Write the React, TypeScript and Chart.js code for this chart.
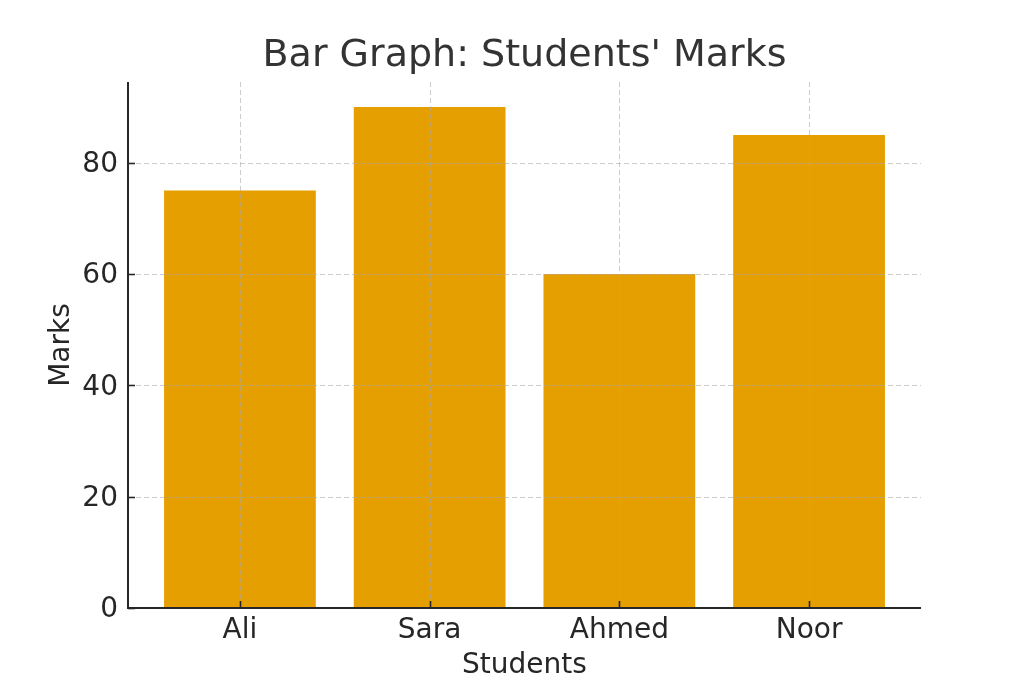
import React, { useEffect, useRef } from "react";
import { Chart, registerables } from "chart.js";

Chart.register(...registerables);

const students = ["Ali", "Sara", "Ahmed", "Noor"];
const marks = [75, 90, 60, 85];
const yTicks = [0, 20, 40, 60, 80];

const FONT = "'DejaVu Sans', 'Liberation Sans', sans-serif";
const TEXT = "#262626";

const overlayPlugin = {
  id: "mplOverlay",
  afterDatasetsDraw(chart: any) {
    const { ctx, chartArea } = chart;
    const xs = chart.scales.x;
    const ys = chart.scales.y;
    ctx.save();
    // grid
    ctx.strokeStyle = "rgba(170,170,170,0.6)";
    ctx.lineWidth = 1;
    ctx.setLineDash([5, 3]);
    students.forEach((_, i) => {
      const px = Math.round(xs.getPixelForValue(i)) + 0.5;
      ctx.beginPath();
      ctx.moveTo(px, chartArea.top);
      ctx.lineTo(px, chartArea.bottom);
      ctx.stroke();
    });
    yTicks.forEach((v) => {
      const py = Math.round(ys.getPixelForValue(v)) + 0.5;
      ctx.beginPath();
      ctx.moveTo(chartArea.left, py);
      ctx.lineTo(chartArea.right, py);
      ctx.stroke();
    });
    ctx.setLineDash([]);
    // inward ticks
    ctx.strokeStyle = TEXT;
    ctx.lineWidth = 1.6;
    students.forEach((_, i) => {
      const px = Math.round(xs.getPixelForValue(i)) + 0.5;
      ctx.beginPath();
      ctx.moveTo(px, chartArea.bottom);
      ctx.lineTo(px, chartArea.bottom - 7);
      ctx.stroke();
    });
    yTicks.forEach((v) => {
      const py = Math.round(ys.getPixelForValue(v)) + 0.5;
      ctx.beginPath();
      ctx.moveTo(chartArea.left, py);
      ctx.lineTo(chartArea.left + 7, py);
      ctx.stroke();
    });
    // spines
    ctx.lineWidth = 2;
    ctx.beginPath();
    ctx.moveTo(chartArea.left, chartArea.top);
    ctx.lineTo(chartArea.left, chartArea.bottom);
    ctx.lineTo(chartArea.right, chartArea.bottom);
    ctx.stroke();
    ctx.restore();
  },
};

export default function App() {
  const ref = useRef<HTMLCanvasElement | null>(null);
  useEffect(() => {
    if (!ref.current) return;
    const chart = new Chart(ref.current, {
      type: "bar",
      data: {
        datasets: [
          {
            label: "Marks",
            data: students.map((_, i) => ({ x: i, y: marks[i] })),
            backgroundColor: "#E69F00",
            borderWidth: 0,
            barPercentage: 0.8,
            categoryPercentage: 1,
          },
        ],
      },
      options: {
        animation: false,
        responsive: false,
        devicePixelRatio: 1,
        layout: { padding: { left: 0, right: 103, top: 0, bottom: 0 } },
        plugins: {
          legend: { display: false },
          tooltip: { enabled: false },
          title: {
            display: true,
            fullSize: false,
            text: "Bar Graph: Students' Marks",
            color: "#333333",
            font: { family: FONT, size: 38, weight: "normal" },
            padding: { top: 33, bottom: 3.4 },
          },
        },
        scales: {
          x: {
            type: "linear",
            offset: false,
            min: -0.59,
            max: 3.59,
            grid: { display: false, drawTicks: false, offset: false },
            border: { display: false },
            afterFit: (s: any) => {
              s.height = 75;
            },
            ticks: {
              stepSize: 1,
              includeBounds: false,
              autoSkip: false,
              maxRotation: 0,
              padding: 6,
              color: TEXT,
              font: { family: FONT, size: 28 },
              callback: (v: any) => students[v] ?? "",
            },
            title: {
              display: true,
              text: "Students",
              color: TEXT,
              font: { family: FONT, size: 28 },
              padding: { top: 0, bottom: 0 },
            },
          },
          y: {
            type: "linear",
            min: 0,
            max: 94.5,
            grid: { display: false, drawTicks: false },
            border: { display: false },
            afterFit: (s: any) => {
              s.width = 128;
            },
            ticks: {
              stepSize: 20,
              includeBounds: false,
              padding: 10,
              labelOffset: 2,
              color: TEXT,
              font: { family: FONT, size: 28 },
            },
            title: {
              display: true,
              text: "Marks",
              color: TEXT,
              font: { family: FONT, size: 28 },
              padding: { top: 45, bottom: 0 },
            },
          },
        },
      },
      plugins: [overlayPlugin],
    } as any);
    return () => chart.destroy();
  }, []);
  return (
    <div style={{ position: "absolute", left: 0, top: 0, width: 1024, height: 683, background: "#fff" }}>
      <canvas ref={ref} width={1024} height={683} style={{ display: "block" }} />
    </div>
  );
}
